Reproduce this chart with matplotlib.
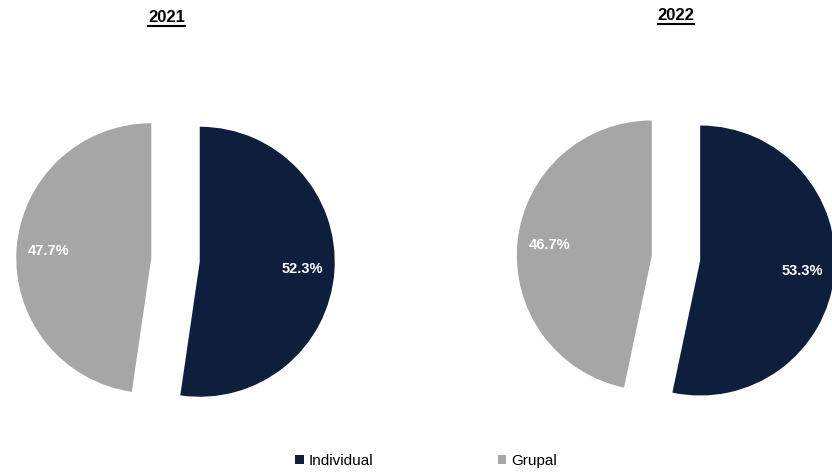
import matplotlib.pyplot as plt
from matplotlib.patches import Patch
from matplotlib.lines import Line2D

anios = ['2021', '2022']
categorias = ['Individual', 'Grupal']
individual = [52.3, 53.3]
grupal = [47.7, 46.7]

colores = ['#0E1F3D', '#A6A6A6']

fig = plt.figure(figsize=(8.32, 4.72), dpi=100)
W, H = 832, 472

# centros de cada torta en pixeles (desde arriba)
centros = [(175.5, 260), (676, 258)]
pos_titulos = [(166.5, 18), (676, 16)]
radio_px = 135
lim = 1.6
lado = 2 * lim * radio_px

titulos = []
for i, anio in enumerate(anios):
    cx, cy = centros[i]
    left = (cx - lado / 2) / W
    bottom = (H - cy - lado / 2) / H
    ax = fig.add_axes([left, bottom, lado / W, lado / H])
    valores = [individual[i], grupal[i]]
    wedges, textos, autotextos = ax.pie(
        valores, colors=colores, startangle=90, counterclock=False,
        explode=[0.18, 0.18], autopct='%1.1f%%', pctdistance=0.76,
        textprops={'color': 'white', 'fontsize': 10.5, 'fontweight': 'bold',
                   'family': ['Liberation Sans Narrow', 'Liberation Sans']})
    ax.set_xlim(-lim, lim)
    ax.set_ylim(-lim, lim)
    ax.set_aspect('equal')
    ax.axis('off')

    tx, ty = pos_titulos[i]
    t = fig.text(tx / W, 1 - ty / H, anio, ha='center', va='center',
                 fontsize=12, fontweight='bold', family='Liberation Sans')
    titulos.append(t)

handles = [Patch(facecolor=c, edgecolor='none') for c in colores]
fig.legend(handles, categorias, loc='center', bbox_to_anchor=(0.512, 1 - 461 / H),
           ncol=2, frameon=False, columnspacing=8.2, handlelength=0.55, handleheight=0.55,
           handletextpad=0.3, prop={'family': 'Liberation Sans', 'size': 11})

# subrayado de los titulos
fig.canvas.draw()
r = fig.canvas.get_renderer()
for t in titulos:
    bb = t.get_window_extent(r)
    y = (bb.y0 - 0.5) / H
    fig.add_artist(Line2D([bb.x0 / W, bb.x1 / W], [y, y], color='black', lw=1.5))

plt.savefig('out.png', dpi=100)
